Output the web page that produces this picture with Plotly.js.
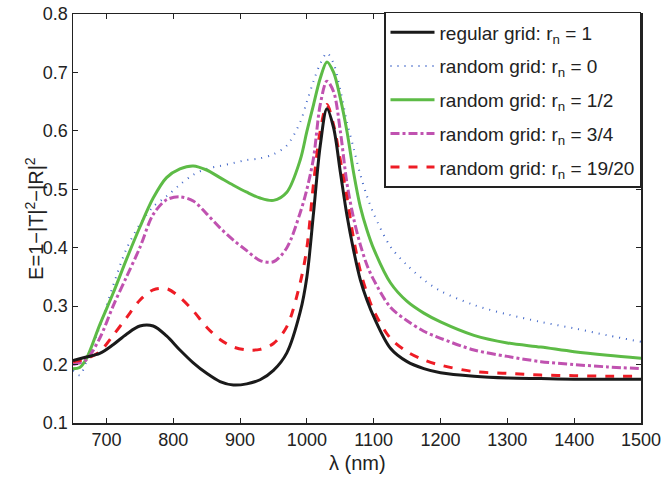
<!DOCTYPE html>
<html>
<head>
<meta charset="utf-8">
<script src="https://cdn.plot.ly/plotly-3.0.1.min.js"></script>
<style>html,body{margin:0;padding:0;background:#fff;}#chart{width:663px;height:479px;}</style>
</head>
<body>
<div id="chart"></div>
<script>
const lambda = [650,660,670,690,710,730,750,770,790,810,830,850,870,890,910,930,950,970,990,1000,1010,1020,1030,1040,1050,1060,1070,1080,1090,1100,1125,1150,1175,1200,1250,1300,1350,1400,1450,1500];
const regular = [0.207,0.210,0.213,0.219,0.234,0.252,0.266,0.266,0.249,0.225,0.203,0.185,0.171,0.165,0.167,0.174,0.190,0.220,0.290,0.350,0.460,0.575,0.638,0.605,0.530,0.455,0.395,0.345,0.310,0.282,0.228,0.205,0.193,0.186,0.180,0.177,0.176,0.175,0.175,0.175];
const random0 = [0.190,0.182,0.205,0.265,0.335,0.398,0.440,0.470,0.488,0.508,0.525,0.535,0.540,0.545,0.550,0.553,0.560,0.575,0.615,0.650,0.685,0.715,0.733,0.715,0.670,0.615,0.570,0.525,0.488,0.458,0.402,0.370,0.345,0.326,0.302,0.286,0.273,0.262,0.250,0.239];
const randomHalf = [0.193,0.195,0.210,0.268,0.322,0.380,0.435,0.485,0.520,0.535,0.540,0.533,0.520,0.507,0.495,0.485,0.481,0.495,0.550,0.599,0.645,0.690,0.718,0.700,0.656,0.599,0.528,0.470,0.430,0.398,0.340,0.308,0.288,0.273,0.250,0.237,0.230,0.222,0.216,0.211];
const random34 = [0.200,0.203,0.208,0.245,0.300,0.350,0.400,0.457,0.482,0.487,0.480,0.458,0.434,0.413,0.395,0.378,0.376,0.400,0.460,0.500,0.554,0.645,0.685,0.667,0.600,0.510,0.450,0.405,0.370,0.345,0.298,0.275,0.257,0.245,0.225,0.214,0.205,0.200,0.196,0.193];
const random1920 = [0.205,0.207,0.210,0.222,0.250,0.280,0.310,0.328,0.330,0.315,0.292,0.264,0.243,0.230,0.225,0.226,0.236,0.265,0.340,0.400,0.510,0.600,0.645,0.610,0.550,0.485,0.415,0.360,0.322,0.292,0.245,0.222,0.208,0.199,0.188,0.185,0.182,0.181,0.180,0.180];
const names = ['regular grid: r<sub>n</sub> = 1','random grid: r<sub>n</sub> = 0','random grid: r<sub>n</sub> = 1/2','random grid: r<sub>n</sub> = 3/4','random grid: r<sub>n</sub> = 19/20'];
const xTicks = [700,800,900,1000,1100,1200,1300,1400,1500];
const yTicks = [0.1,0.2,0.3,0.4,0.5,0.6,0.7,0.8];
const xTitle = 'λ (nm)';
const yTitle = 'E=1−|T|<sup>2</sup>−|R|<sup>2</sup>';

const series = [regular, random0, randomHalf, random34, random1920];
const styles = [
  {color:'#1a1a1a', width:3, dash:'solid'},
  {color:'#4066c8', width:2, dash:'1px,6px'},
  {color:'#5dbb46', width:3, dash:'solid'},
  {color:'#c052b0', width:3, dash:'dashdot'},
  {color:'#ee1c25', width:3, dash:'dash'}
];
const traces = series.map((s, i) => ({
  x: lambda, y: s, name: names[i], type:'scatter', mode:'lines',
  legendrank: i+1, legendgroup: 'g'+i,
  line: Object.assign({shape:'spline', smoothing:0.9}, styles[i])
}));
const drawOrder = [1,2,3,4,0];
const data = drawOrder.map(i => traces[i]);

const fam = '"Liberation Sans", Arial, sans-serif';
const layout = {
  width:663, height:479,
  margin:{l:73, r:22, t:12, b:56},
  paper_bgcolor:'#fff', plot_bgcolor:'#fff',
  font:{family:fam, size:18, color:'#222'},
  showlegend:true,
  legend:{x:1, y:1.005, xanchor:'right', yanchor:'top', bgcolor:'#fff', bordercolor:'#222', borderwidth:1.5,
    font:{family:fam, size:19, color:'#222'}, traceorder:'grouped', tracegroupgap:6, itemwidth:44},
  xaxis:{range:[650,1500], tickvals:xTicks, ticktext:xTicks.map(String), ticks:'inside', ticklen:5, tickcolor:'#222', showline:true, linecolor:'#222', linewidth:1.5, mirror:'ticks', showgrid:false, zeroline:false,
    tickfont:{family:fam, size:18, color:'#222'}, automargin:false},
  yaxis:{range:[0.1,0.8], tickvals:yTicks, ticktext:yTicks.map(v=>v.toFixed(1)), ticks:'inside', ticklen:5, tickcolor:'#222', showline:true, linecolor:'#222', linewidth:1.5, mirror:'ticks', showgrid:false, zeroline:false,
    tickfont:{family:fam, size:18, color:'#222'}, automargin:false},
  annotations:[
    {text:yTitle, xref:'paper', yref:'paper', x:-0.068, y:0.5, xanchor:'center', yanchor:'middle', textangle:-90, showarrow:false,
      font:{family:fam, size:20, color:'#222'}},
    {text:xTitle, xref:'paper', yref:'paper', x:0.5, y:-0.097, xanchor:'center', yanchor:'middle', showarrow:false,
      font:{family:fam, size:20, color:'#222'}}
  ]
};
Plotly.newPlot('chart', data, layout, {displayModeBar:false, staticPlot:true});
</script>
</body>
</html>
